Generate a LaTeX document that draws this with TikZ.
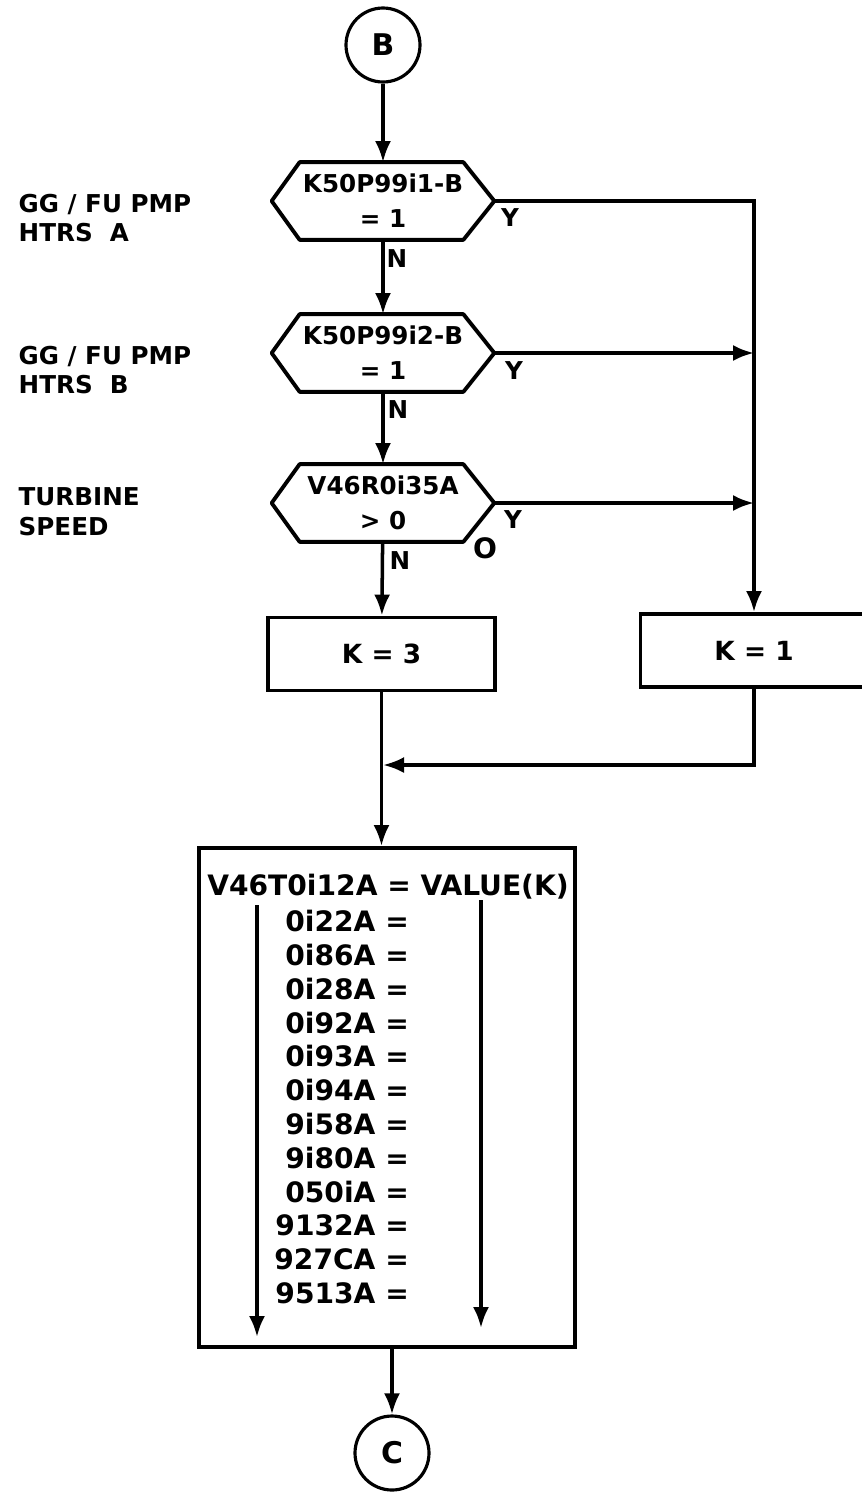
\documentclass[tikz,border=0pt]{standalone}
\usepackage{fontspec}
\setmainfont{DejaVu Sans}
\usetikzlibrary{arrows.meta}

\tikzset{
 flow/.style = {line width=2pt, -{Latex[length=4.2mm,width=3.2mm]}},
 edge/.style = {line width=2.2pt, line join=round},
 conn/.style = {circle, draw, line width=1.8pt, minimum size=1.48cm, inner sep=0pt, font=\bfseries\fontsize{17}{19}\selectfont},
 test/.style = {minimum width=4.44cm, minimum height=1.54cm, inner sep=0pt, align=center, font=\bfseries\fontsize{14}{20}\selectfont},
 act/.style  = {draw, line width=2.2pt, minimum width=4.54cm, minimum height=1.46cm, font=\bfseries\fontsize{15}{18}\selectfont},
 tag/.style  = {font=\bfseries\fontsize{14}{16}\selectfont},
 note/.style = {anchor=west, align=left, font=\bfseries\fontsize{14}{17}\selectfont},
 row/.style  = {anchor=east, font=\bfseries\fontsize{16}{18}\selectfont}
}

\begin{document}
\begin{tikzpicture}
 \useasboundingbox (0,0) rectangle (17.22,-29.84);

 % entry and exit
 \node[conn] (B) at (7.66,-0.9) {B};
 \node[conn] (C) at (7.84,-29.06) {C};

 % tests
 \node[test] (d1) at (7.66,-4.02) {K50P99i1-B\\= 1};
 \node[test] (d2) at (7.66,-7.06) {K50P99i2-B\\= 1};
 \node[test] (d3) at (7.66,-10.06) {V46R0i35A\\> 0};
 \foreach \d in {d1,d2,d3}
  \draw[edge] (\d.west) -- ([xshift=0.56cm]\d.north west) -- ([xshift=-0.62cm]\d.north east)
   -- (\d.east) -- ([xshift=-0.62cm]\d.south east) -- ([xshift=0.56cm]\d.south west) -- cycle;

 % side notes
 \node[note] (n1) at (0.25,-4.36) {GG / FU PMP\\HTRS\ \ A};
 \node[note] (n2) at (0.25,-7.4) {GG / FU PMP\\HTRS\ \ B};
 \node[note] (n3) at (0.25,-10.24) {TURBINE\\SPEED};

 % settings
 \node[act] (k3) at (7.63,-13.08) {K = 3};
 \node[act] (k1) at (15.08,-13.01) {K = 1};

 % table
 \node[draw, line width=2.2pt, minimum width=7.52cm, minimum height=9.98cm] (tbl) at (7.74,-21.95) {};
 \node[font=\bfseries\fontsize{16}{18}\selectfont] (v0) at (7.76,-17.74) {V46T0i12A = VALUE(K)};
 \foreach \t [count=\i] in {0i22A,0i86A,0i28A,0i92A,0i93A,0i94A,9i58A,9i80A,050iA,9132A,927CA,9513A}
  \node[row] (v\i) at (8.3,{-18.42-0.677*(\i-1)}) {\t\ =};
 \coordinate (la) at (5.14,-18.1);
 \coordinate (lb) at (5.14,-26.74);
 \coordinate (ra) at (9.62,-18.0);
 \coordinate (rb) at (9.62,-26.56);
 \draw[flow] (la) -- (lb);
 \draw[flow] (ra) -- (rb);

 % flow
 \draw[flow] (B) -- (d1);
 \draw[flow] (d1) -- (d2);
 \draw[flow] (d2) -- (d3);
 \draw[flow] (d3) -- (k3);
 \draw[flow] (d1.east) -| (k1.north);
 \draw[flow] (d2.east) -- (d2.east -| k1.north);
 \draw[flow] (d3.east) -- (d3.east -| k1.north);
 \coordinate (j) at (7.66,-15.3);
 \draw[flow] (k1.south) |- (j);
 \draw[flow] (k3.south) -- (k3.south |- tbl.north);
 \draw[flow] (C.north |- tbl.south) -- (C.north);

 % branch labels
 \node[tag] (y1) at (10.2,-4.36) {Y};
 \node[tag] (y2) at (10.28,-7.42) {Y};
 \node[tag] (y3) at (10.26,-10.4) {Y};
 \node[tag, font=\bfseries\fontsize{16}{18}\selectfont] (o3) at (9.7,-10.96) {O};
 \node[tag] (m1) at (7.94,-5.18) {N};
 \node[tag] (m2) at (7.96,-8.2) {N};
 \node[tag] (m3) at (8.0,-11.22) {N};
\end{tikzpicture}
\end{document}
